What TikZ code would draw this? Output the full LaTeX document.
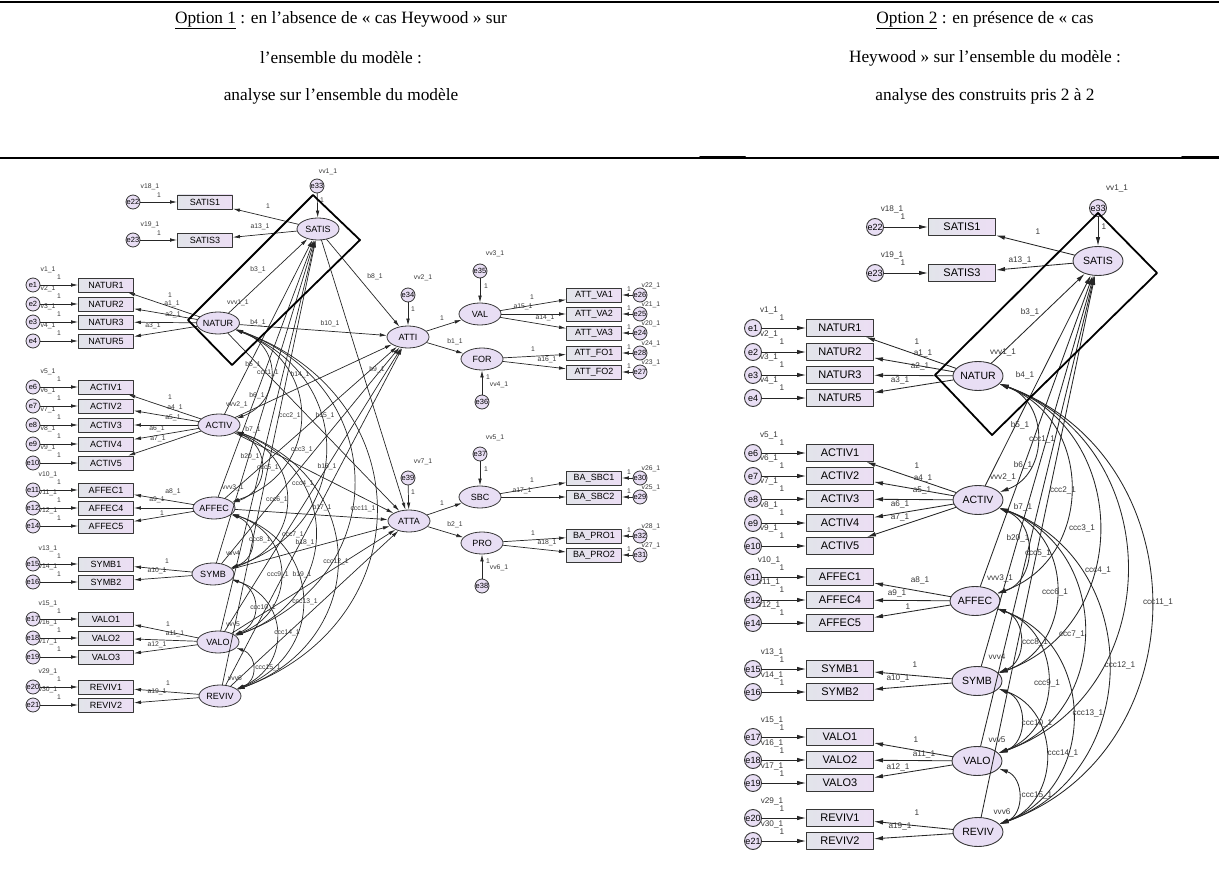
\documentclass[tikz,border=0pt]{standalone}
\usepackage{fontspec}
\setmainfont{Liberation Serif}
\newfontfamily\amosfont{Liberation Sans}
\usetikzlibrary{arrows.meta, shapes.geometric}
\definecolor{boxleft}{RGB}{226,228,234}
\definecolor{boxright}{RGB}{236,222,244}
\definecolor{latfill}{RGB}{232,222,244}
\definecolor{inkgray}{RGB}{55,55,55}

\begin{document}
\begin{tikzpicture}[
  x=1pt, y=-1pt,
  line cap=round,
  line join=round,
  head/.style={font=\fontsize{17.3}{20}\selectfont, inner sep=0pt},
  rule/.style={draw=black, line width=1.6pt},
  frame/.style={draw=black, line width=1.8pt},
  obsL/.style={
    draw=inkgray,
    line width=0.9pt,
    left color=boxleft,
    right color=boxright,
    minimum width=55pt,
    minimum height=14pt,
    inner sep=0pt,
    font=\amosfont\fontsize{9}{9}\selectfont
  },
  latL/.style={
    ellipse,
    draw=inkgray,
    line width=0.8pt,
    fill=latfill,
    minimum width=42pt,
    minimum height=22pt,
    inner sep=0pt,
    font=\amosfont\fontsize{9}{9}\selectfont
  },
  errL/.style={
    circle,
    draw=inkgray,
    line width=0.8pt,
    fill=latfill,
    minimum size=14pt,
    inner sep=0pt,
    font=\amosfont\fontsize{7.5}{7.5}\selectfont
  },
  lblL/.style={inner sep=0pt, text=inkgray, font=\amosfont\fontsize{6.8}{7}\selectfont},
  arrL/.style={-{Latex[length=7pt,width=3.6pt]}, line width=0.7pt, draw=black!85},
  covL/.style={{Latex[length=7pt,width=3.6pt]}-{Latex[length=7pt,width=3.6pt]}, line width=0.7pt, draw=black!85, bend left=70, looseness=1.4},
  obsR/.style={
    draw=inkgray,
    line width=1pt,
    left color=boxleft,
    right color=boxright,
    minimum width=67pt,
    minimum height=17pt,
    inner sep=0pt,
    font=\amosfont\fontsize{11}{11}\selectfont
  },
  latR/.style={
    ellipse,
    draw=inkgray,
    line width=0.9pt,
    fill=latfill,
    minimum width=50pt,
    minimum height=29pt,
    inner sep=0pt,
    font=\amosfont\fontsize{10.5}{10.5}\selectfont
  },
  errR/.style={
    circle,
    draw=inkgray,
    line width=0.9pt,
    fill=latfill,
    minimum size=17pt,
    inner sep=0pt,
    font=\amosfont\fontsize{9}{9}\selectfont
  },
  lblR/.style={inner sep=0pt, text=inkgray, font=\amosfont\fontsize{8.2}{8.5}\selectfont},
  arrR/.style={-{Latex[length=9pt,width=4.5pt]}, line width=0.85pt, draw=black!85},
  covR/.style={{Latex[length=9pt,width=4.5pt]}-{Latex[length=9pt,width=4.5pt]}, line width=0.85pt, draw=black!85, bend left=70, looseness=1.25}
]
\useasboundingbox (0,0) rectangle (1219,880);

% ------------------------------------------------
% Table head
% ------------------------------------------------
\draw[rule] (0,2) -- (1219,2);
\node[head] (h1a) at (341,20) {\underline{Option 1} : en l’absence de « cas Heywood » sur};
\node[head] (h1b) at (341,58) {l’ensemble du modèle :};
\node[head] (h1c) at (341,96) {analyse sur l’ensemble du modèle};
\node[head] (h2a) at (985,20) {\underline{Option 2} : en présence de « cas};
\node[head] (h2b) at (985,58) {Heywood » sur l’ensemble du modèle :};
\node[head] (h2c) at (985,96) {analyse des construits pris 2 à 2};
\draw[rule, line width=1.2pt] (0,158) -- (1219,158);
\draw[rule, line width=2pt] (700,157.5) -- (745,157.5);
\draw[rule, line width=2pt] (1182,157.5) -- (1219,157.5);

% ------------------------------------------------
% Option 1 : indicators on the left
% ------------------------------------------------
\node[lblL] (v18L) at (150,187) {v18\_1};
\node[lblL] (f18L) at (159,195) {1};
\node[lblL] (v19L) at (150,225) {v19\_1};
\node[lblL] (f19L) at (159,233) {1};
\node[errL] (e22L) at (133,202) {e22};
\node[errL] (e23L) at (133,240) {e23};
\node[obsL] (satis1L) at (205,202) {SATIS1};
\node[obsL] (satis3L) at (205,240) {SATIS3};
\draw[arrL] (e22L) -- (satis1L);
\draw[arrL] (e23L) -- (satis3L);

\node[lblL] (v1L) at (48,270) {v1\_1};
\node[lblL] (f1L) at (59,277) {1};
\node[lblL] (v2L) at (48,289) {v2\_1};
\node[lblL] (f2L) at (59,296) {1};
\node[lblL] (v3L) at (48,307) {v3\_1};
\node[lblL] (f3L) at (59,314) {1};
\node[lblL] (v4L) at (48,326) {v4\_1};
\node[lblL] (f4L) at (59,333) {1};
\node[errL] (e1L) at (33,285) {e1};
\node[errL] (e2L) at (33,304) {e2};
\node[errL] (e3L) at (33,322) {e3};
\node[errL] (e4L) at (33,341) {e4};
\node[obsL] (natur1L) at (106,285) {NATUR1};
\node[obsL] (natur2L) at (106,304) {NATUR2};
\node[obsL] (natur3L) at (106,322) {NATUR3};
\node[obsL] (natur5L) at (106,341) {NATUR5};
\draw[arrL] (e1L) -- (natur1L);
\draw[arrL] (e2L) -- (natur2L);
\draw[arrL] (e3L) -- (natur3L);
\draw[arrL] (e4L) -- (natur5L);

\node[lblL] (v5L) at (48,372) {v5\_1};
\node[lblL] (f5L) at (59,379) {1};
\node[lblL] (v6L) at (48,391) {v6\_1};
\node[lblL] (f6L) at (59,398) {1};
\node[lblL] (v7L) at (48,410) {v7\_1};
\node[lblL] (f7L) at (59,417) {1};
\node[lblL] (v8L) at (48,429) {v8\_1};
\node[lblL] (f8L) at (59,436) {1};
\node[lblL] (v9L) at (48,448) {v9\_1};
\node[lblL] (f9L) at (59,455) {1};
\node[errL] (e6L) at (33,387) {e6};
\node[errL] (e7L) at (33,406) {e7};
\node[errL] (e8L) at (33,425) {e8};
\node[errL] (e9L) at (33,444) {e9};
\node[errL] (e10L) at (33,463) {e10};
\node[obsL] (activ1L) at (106,387) {ACTIV1};
\node[obsL] (activ2L) at (106,406) {ACTIV2};
\node[obsL] (activ3L) at (106,425) {ACTIV3};
\node[obsL] (activ4L) at (106,444) {ACTIV4};
\node[obsL] (activ5L) at (106,463) {ACTIV5};
\draw[arrL] (e6L) -- (activ1L);
\draw[arrL] (e7L) -- (activ2L);
\draw[arrL] (e8L) -- (activ3L);
\draw[arrL] (e9L) -- (activ4L);
\draw[arrL] (e10L) -- (activ5L);

\node[lblL] (v10L) at (48,475) {v10\_1};
\node[lblL] (f10L) at (59,482) {1};
\node[lblL] (v11L) at (48,493) {v11\_1};
\node[lblL] (f11L) at (59,500) {1};
\node[lblL] (v12L) at (48,511) {v12\_1};
\node[lblL] (f12L) at (59,518) {1};
\node[errL] (e11L) at (33,490) {e11};
\node[errL] (e12L) at (33,508) {e12};
\node[errL] (e14L) at (33,526) {e14};
\node[obsL] (affec1L) at (106,490) {AFFEC1};
\node[obsL] (affec4L) at (106,508) {AFFEC4};
\node[obsL] (affec5L) at (106,526) {AFFEC5};
\draw[arrL] (e11L) -- (affec1L);
\draw[arrL] (e12L) -- (affec4L);
\draw[arrL] (e14L) -- (affec5L);

\node[lblL] (v13L) at (48,549) {v13\_1};
\node[lblL] (f13L) at (59,556) {1};
\node[lblL] (v14L) at (48,567) {v14\_1};
\node[lblL] (f14L) at (59,574) {1};
\node[errL] (e15L) at (33,564) {e15};
\node[errL] (e16L) at (33,582) {e16};
\node[obsL] (symb1L) at (106,564) {SYMB1};
\node[obsL] (symb2L) at (106,582) {SYMB2};
\draw[arrL] (e15L) -- (symb1L);
\draw[arrL] (e16L) -- (symb2L);

\node[lblL] (v15L) at (48,604) {v15\_1};
\node[lblL] (f15L) at (59,611) {1};
\node[lblL] (v16L) at (48,623) {v16\_1};
\node[lblL] (f16L) at (59,630) {1};
\node[lblL] (v17L) at (48,642) {v17\_1};
\node[lblL] (f17L) at (59,649) {1};
\node[errL] (e17L) at (33,619) {e17};
\node[errL] (e18L) at (33,638) {e18};
\node[errL] (e19L) at (33,657) {e19};
\node[obsL] (valo1L) at (106,619) {VALO1};
\node[obsL] (valo2L) at (106,638) {VALO2};
\node[obsL] (valo3L) at (106,657) {VALO3};
\draw[arrL] (e17L) -- (valo1L);
\draw[arrL] (e18L) -- (valo2L);
\draw[arrL] (e19L) -- (valo3L);

\node[lblL] (v29L) at (48,672) {v29\_1};
\node[lblL] (f29L) at (59,679) {1};
\node[lblL] (v30L) at (48,690) {v30\_1};
\node[lblL] (f30L) at (59,697) {1};
\node[errL] (e20L) at (33,687) {e20};
\node[errL] (e21L) at (33,705) {e21};
\node[obsL] (reviv1L) at (106,687) {REVIV1};
\node[obsL] (reviv2L) at (106,705) {REVIV2};
\draw[arrL] (e20L) -- (reviv1L);
\draw[arrL] (e21L) -- (reviv2L);

% ------------------------------------------------
% Option 1 : latent variables
% ------------------------------------------------
\node[lblL] (vv1L) at (328,172) {vv1\_1};
\node[lblL] (g1L) at (322,200) {1};
\node[errL] (e33L) at (317,186) {e33};
\node[latL] (satisL) at (318,229) {SATIS};
\node[latL] (naturL) at (218,323) {NATUR};
\node[latL] (activL) at (219,425) {ACTIV};
\node[latL] (affecL) at (214,508) {AFFEC};
\node[latL] (symbL) at (213,574) {SYMB};
\node[latL] (valoL) at (218,642) {VALO};
\node[latL] (revivL) at (220,696) {REVIV};
\draw[arrL] (e33L) -- (satisL);

\draw[arrL] (satisL) -- (satis1L);
\draw[arrL] (satisL) -- (satis3L);
\node[lblL] (k1L) at (268,206) {1};
\node[lblL] (a13L) at (260,227) {a13\_1};

\draw[arrL] (naturL) -- (natur1L);
\draw[arrL] (naturL) -- (natur2L);
\draw[arrL] (naturL) -- (natur3L);
\draw[arrL] (naturL) -- (natur5L);
\node[lblL] (k2L) at (170,295) {1};
\node[lblL] (a1L) at (172,304) {a1\_1};
\node[lblL] (a2L) at (173,315) {a2\_1};
\node[lblL] (a3L) at (153,326) {a3\_1};

\draw[arrL] (activL) -- (activ1L);
\draw[arrL] (activL) -- (activ2L);
\draw[arrL] (activL) -- (activ3L);
\draw[arrL] (activL) -- (activ4L);
\draw[arrL] (activL) -- (activ5L);
\node[lblL] (k3L) at (170,397) {1};
\node[lblL] (a4L) at (175,408) {a4\_1};
\node[lblL] (a5L) at (173,418) {a5\_1};
\node[lblL] (a6L) at (157,429) {a6\_1};
\node[lblL] (a7L) at (158,439) {a7\_1};

\draw[arrL] (affecL) -- (affec1L);
\draw[arrL] (affecL) -- (affec4L);
\draw[arrL] (affecL) -- (affec5L);
\node[lblL] (a8L) at (173,492) {a8\_1};
\node[lblL] (a9L) at (157,500) {a9\_1};
\node[lblL] (k4L) at (162,513) {1};

\draw[arrL] (symbL) -- (symb1L);
\draw[arrL] (symbL) -- (symb2L);
\node[lblL] (k5L) at (167,561) {1};
\node[lblL] (a10L) at (157,571) {a10\_1};

\draw[arrL] (valoL) -- (valo1L);
\draw[arrL] (valoL) -- (valo2L);
\draw[arrL] (valoL) -- (valo3L);
\node[lblL] (k6L) at (168,624) {1};
\node[lblL] (a11L) at (175,634) {a11\_1};
\node[lblL] (a12L) at (157,645) {a12\_1};

\draw[arrL] (revivL) -- (reviv1L);
\draw[arrL] (revivL) -- (reviv2L);
\node[lblL] (k7L) at (168,683) {1};
\node[lblL] (a19L) at (157,692) {a19\_1};

% ------------------------------------------------
% Option 1 : attitudes on the right
% ------------------------------------------------
\node[lblL] (vv2L) at (423,278) {vv2\_1};
\node[lblL] (g2L) at (413,309) {1};
\node[errL] (e34L) at (408,295) {e34};
\node[latL] (attiL) at (408,337) {ATTI};
\draw[arrL] (e34L) -- (attiL);

\node[lblL] (vv3L) at (495,254) {vv3\_1};
\node[lblL] (g3L) at (486,286) {1};
\node[errL] (e35L) at (480,271) {e35};
\node[latL] (valL) at (480,314) {VAL};
\draw[arrL] (e35L) -- (valL);

\node[lblL] (vv4L) at (499,385) {vv4\_1};
\node[lblL] (g4L) at (488,377) {1};
\node[errL] (e36L) at (482,402) {e36};
\node[latL] (forL) at (482,359) {FOR};
\draw[arrL] (e36L) -- (forL);

\draw[arrL] (attiL) -- (valL);
\draw[arrL] (attiL) -- (forL);
\node[lblL] (k8L) at (442,318) {1};
\node[lblL] (b1L) at (455,342) {b1\_1};

\node[lblL] (v22L) at (651,286) {v22\_1};
\node[lblL] (f22L) at (629,289) {1};
\node[lblL] (v21L) at (651,305) {v21\_1};
\node[lblL] (f21L) at (629,308) {1};
\node[lblL] (v20L) at (651,324) {v20\_1};
\node[lblL] (f20L) at (629,327) {1};
\node[lblL] (v24L) at (651,344) {v24\_1};
\node[lblL] (f24L) at (629,347) {1};
\node[lblL] (v23L) at (651,363) {v23\_1};
\node[lblL] (f23L) at (629,366) {1};
\node[obsL] (attva1L) at (594,295) {ATT\_VA1};
\node[obsL] (attva2L) at (594,314) {ATT\_VA2};
\node[obsL] (attva3L) at (594,333) {ATT\_VA3};
\node[obsL] (attfo1L) at (594,353) {ATT\_FO1};
\node[obsL] (attfo2L) at (594,372) {ATT\_FO2};
\node[errL] (e26L) at (640,295) {e26};
\node[errL] (e25L) at (640,314) {e25};
\node[errL] (e24L) at (640,333) {e24};
\node[errL] (e28L) at (640,353) {e28};
\node[errL] (e27L) at (640,372) {e27};
\draw[arrL] (e26L) -- (attva1L);
\draw[arrL] (e25L) -- (attva2L);
\draw[arrL] (e24L) -- (attva3L);
\draw[arrL] (e28L) -- (attfo1L);
\draw[arrL] (e27L) -- (attfo2L);
\draw[arrL] (valL) -- (attva1L);
\draw[arrL] (valL) -- (attva2L);
\draw[arrL] (valL) -- (attva3L);
\draw[arrL] (forL) -- (attfo1L);
\draw[arrL] (forL) -- (attfo2L);
\node[lblL] (k9L) at (532,297) {1};
\node[lblL] (a15L) at (523,307) {a15\_1};
\node[lblL] (a14L) at (545,318) {a14\_1};
\node[lblL] (k10L) at (533,349) {1};
\node[lblL] (a16L) at (547,360) {a16\_1};

\node[lblL] (vv7L) at (423,462) {vv7\_1};
\node[lblL] (g7L) at (413,492) {1};
\node[errL] (e39L) at (408,478) {e39};
\node[latL] (attaL) at (409,521) {ATTA};
\draw[arrL] (e39L) -- (attaL);

\node[lblL] (vv5L) at (495,438) {vv5\_1};
\node[lblL] (g5L) at (486,469) {1};
\node[errL] (e37L) at (480,454) {e37};
\node[latL] (sbcL) at (480,497) {SBC};
\draw[arrL] (e37L) -- (sbcL);

\node[lblL] (vv6L) at (499,568) {vv6\_1};
\node[lblL] (g6L) at (488,561) {1};
\node[errL] (e38L) at (482,586) {e38};
\node[latL] (proL) at (482,543) {PRO};
\draw[arrL] (e38L) -- (proL);

\draw[arrL] (attaL) -- (sbcL);
\draw[arrL] (attaL) -- (proL);
\node[lblL] (k11L) at (442,503) {1};
\node[lblL] (b2L) at (455,525) {b2\_1};

\node[lblL] (v26L) at (651,469) {v26\_1};
\node[lblL] (f26L) at (629,472) {1};
\node[lblL] (v25L) at (651,488) {v25\_1};
\node[lblL] (f25L) at (629,491) {1};
\node[lblL] (v28L) at (651,527) {v28\_1};
\node[lblL] (f28L) at (629,530) {1};
\node[lblL] (v27L) at (651,546) {v27\_1};
\node[lblL] (f27L) at (629,549) {1};
\node[obsL] (basbc1L) at (594,478) {BA\_SBC1};
\node[obsL] (basbc2L) at (594,497) {BA\_SBC2};
\node[obsL] (bapro1L) at (594,536) {BA\_PRO1};
\node[obsL] (bapro2L) at (594,555) {BA\_PRO2};
\node[errL] (e30L) at (640,478) {e30};
\node[errL] (e29L) at (640,497) {e29};
\node[errL] (e32L) at (640,536) {e32};
\node[errL] (e31L) at (640,555) {e31};
\draw[arrL] (e30L) -- (basbc1L);
\draw[arrL] (e29L) -- (basbc2L);
\draw[arrL] (e32L) -- (bapro1L);
\draw[arrL] (e31L) -- (bapro2L);
\draw[arrL] (sbcL) -- (basbc1L);
\draw[arrL] (sbcL) -- (basbc2L);
\draw[arrL] (proL) -- (bapro1L);
\draw[arrL] (proL) -- (bapro2L);
\node[lblL] (k12L) at (532,480) {1};
\node[lblL] (a17L) at (522,491) {a17\_1};
\node[lblL] (k13L) at (533,533) {1};
\node[lblL] (a18L) at (547,543) {a18\_1};

% ------------------------------------------------
% Option 1 : structural paths
% ------------------------------------------------
\draw[arrL] (satisL) -- (attiL);
\draw[arrL] (satisL) -- (attaL);
\draw[arrL] (naturL) -- (satisL);
\draw[arrL] (activL) -- (satisL);
\draw[arrL] (affecL) -- (satisL);
\draw[arrL] (symbL) -- (satisL);
\draw[arrL] (valoL) -- (satisL);
\draw[arrL] (revivL) -- (satisL);
\draw[arrL] (naturL) -- (attiL);
\draw[arrL] (activL) -- (attiL);
\draw[arrL] (affecL) -- (attiL);
\draw[arrL] (symbL) -- (attiL);
\draw[arrL] (valoL) -- (attiL);
\draw[arrL] (revivL) -- (attiL);
\draw[arrL] (naturL) -- (attaL);
\draw[arrL] (activL) -- (attaL);
\draw[arrL] (affecL) -- (attaL);
\draw[arrL] (symbL) -- (attaL);
\draw[arrL] (valoL) -- (attaL);
\draw[arrL] (revivL) -- (attaL);

% covariances between the six constructs
\draw[covL] (naturL) to (activL);
\draw[covL] (naturL) to (affecL);
\draw[covL] (naturL) to (symbL);
\draw[covL] (naturL) to (valoL);
\draw[covL] (naturL) to (revivL);
\draw[covL] (activL) to (affecL);
\draw[covL] (activL) to (symbL);
\draw[covL] (activL) to (valoL);
\draw[covL] (activL) to (revivL);
\draw[covL] (affecL) to (symbL);
\draw[covL] (affecL) to (valoL);
\draw[covL] (affecL) to (revivL);
\draw[covL] (symbL) to (valoL);
\draw[covL] (symbL) to (revivL);
\draw[covL] (valoL) to (revivL);

\node[lblL] (vvv1L) at (238,303) {vvv1\_1};
\node[lblL] (vvv2L) at (237,405) {vvv2\_1};
\node[lblL] (vvv3L) at (233,488) {vvv3\_1};
\node[lblL] (vvv4L) at (233,553) {vvv4};
\node[lblL] (vvv5L) at (233,624) {vvv5};
\node[lblL] (vvv6L) at (235,678) {vvv6};
\node[lblL] (b3L) at (258,270) {b3\_1};
\node[lblL] (b4L) at (258,323) {b4\_1};
\node[lblL] (b10L) at (330,324) {b10\_1};
\node[lblL] (b8L) at (375,277) {b8\_1};
\node[lblL] (b9L) at (377,370) {b9\_1};
\node[lblL] (b5L) at (253,365) {b5\_1};
\node[lblL] (c1L) at (268,373) {ccc1\_1};
\node[lblL] (b14L) at (300,375) {b14\_1};
\node[lblL] (b6L) at (257,396) {b6\_1};
\node[lblL] (c2L) at (290,416) {ccc2\_1};
\node[lblL] (b15L) at (325,416) {b15\_1};
\node[lblL] (b7L) at (253,430) {b7\_1};
\node[lblL] (c3L) at (302,450) {ccc3\_1};
\node[lblL] (b20L) at (250,457) {b20\_1};
\node[lblL] (c5L) at (268,468) {ccc5\_1};
\node[lblL] (b16L) at (327,467) {b16\_1};
\node[lblL] (c4L) at (303,484) {ccc4\_1};
\node[lblL] (c6L) at (277,500) {ccc6\_1};
\node[lblL] (b17L) at (322,508) {b17\_1};
\node[lblL] (c11L) at (363,509) {ccc11\_1};
\node[lblL] (c7L) at (293,535) {ccc7\_1};
\node[lblL] (c8L) at (260,540) {ccc8\_1};
\node[lblL] (b18L) at (305,543) {b18\_1};
\node[lblL] (c12L) at (336,562) {ccc12\_1};
\node[lblL] (c9L) at (278,575) {ccc9\_1};
\node[lblL] (b19L) at (302,575) {b19\_1};
\node[lblL] (c13L) at (305,602) {ccc13\_1};
\node[lblL] (c10L) at (263,608) {ccc10\_1};
\node[lblL] (c14L) at (287,633) {ccc14\_1};
\node[lblL] (c15L) at (268,668) {ccc15\_1};

\draw[frame] (313,195) -- (360,240) -- (232,365) -- (188,320) -- cycle;

% ------------------------------------------------
% Option 2 : indicators
% ------------------------------------------------
\node[lblR] (v18R) at (892,209) {v18\_1};
\node[lblR] (f18R) at (903,217) {1};
\node[lblR] (v19R) at (892,255) {v19\_1};
\node[lblR] (f19R) at (903,263) {1};
\node[errR] (e22R) at (875,227) {e22};
\node[errR] (e23R) at (875,273) {e23};
\node[obsR] (satis1R) at (962,227) {SATIS1};
\node[obsR] (satis3R) at (962,273) {SATIS3};
\draw[arrR] (e22R) -- (satis1R);
\draw[arrR] (e23R) -- (satis3R);

\node[lblR] (v1R) at (769,310) {v1\_1};
\node[lblR] (f1R) at (782,318) {1};
\node[lblR] (v2R) at (769,334) {v2\_1};
\node[lblR] (f2R) at (782,342) {1};
\node[lblR] (v3R) at (769,357) {v3\_1};
\node[lblR] (f3R) at (782,365) {1};
\node[lblR] (v4R) at (769,380) {v4\_1};
\node[lblR] (f4R) at (782,388) {1};
\node[errR] (e1R) at (753,328) {e1};
\node[errR] (e2R) at (753,352) {e2};
\node[errR] (e3R) at (753,375) {e3};
\node[errR] (e4R) at (753,398) {e4};
\node[obsR] (natur1R) at (840,328) {NATUR1};
\node[obsR] (natur2R) at (840,352) {NATUR2};
\node[obsR] (natur3R) at (840,375) {NATUR3};
\node[obsR] (natur5R) at (840,398) {NATUR5};
\draw[arrR] (e1R) -- (natur1R);
\draw[arrR] (e2R) -- (natur2R);
\draw[arrR] (e3R) -- (natur3R);
\draw[arrR] (e4R) -- (natur5R);

\node[lblR] (v5R) at (769,435) {v5\_1};
\node[lblR] (f5R) at (782,443) {1};
\node[lblR] (v6R) at (769,458) {v6\_1};
\node[lblR] (f6R) at (782,466) {1};
\node[lblR] (v7R) at (769,481) {v7\_1};
\node[lblR] (f7R) at (782,489) {1};
\node[lblR] (v8R) at (769,505) {v8\_1};
\node[lblR] (f8R) at (782,513) {1};
\node[lblR] (v9R) at (769,528) {v9\_1};
\node[lblR] (f9R) at (782,536) {1};
\node[errR] (e6R) at (753,453) {e6};
\node[errR] (e7R) at (753,476) {e7};
\node[errR] (e8R) at (753,499) {e8};
\node[errR] (e9R) at (753,523) {e9};
\node[errR] (e10R) at (753,546) {e10};
\node[obsR] (activ1R) at (840,453) {ACTIV1};
\node[obsR] (activ2R) at (840,476) {ACTIV2};
\node[obsR] (activ3R) at (840,499) {ACTIV3};
\node[obsR] (activ4R) at (840,523) {ACTIV4};
\node[obsR] (activ5R) at (840,546) {ACTIV5};
\draw[arrR] (e6R) -- (activ1R);
\draw[arrR] (e7R) -- (activ2R);
\draw[arrR] (e8R) -- (activ3R);
\draw[arrR] (e9R) -- (activ4R);
\draw[arrR] (e10R) -- (activ5R);

\node[lblR] (v10R) at (769,560) {v10\_1};
\node[lblR] (f10R) at (782,568) {1};
\node[lblR] (v11R) at (769,582) {v11\_1};
\node[lblR] (f11R) at (782,590) {1};
\node[lblR] (v12R) at (769,605) {v12\_1};
\node[lblR] (f12R) at (782,613) {1};
\node[errR] (e11R) at (753,577) {e11};
\node[errR] (e12R) at (753,600) {e12};
\node[errR] (e14R) at (753,623) {e14};
\node[obsR] (affec1R) at (840,577) {AFFEC1};
\node[obsR] (affec4R) at (840,600) {AFFEC4};
\node[obsR] (affec5R) at (840,623) {AFFEC5};
\draw[arrR] (e11R) -- (affec1R);
\draw[arrR] (e12R) -- (affec4R);
\draw[arrR] (e14R) -- (affec5R);

\node[lblR] (v13R) at (772,652) {v13\_1};
\node[lblR] (f13R) at (782,660) {1};
\node[lblR] (v14R) at (772,675) {v14\_1};
\node[lblR] (f14R) at (782,683) {1};
\node[errR] (e15R) at (753,669) {e15};
\node[errR] (e16R) at (753,692) {e16};
\node[obsR] (symb1R) at (840,669) {SYMB1};
\node[obsR] (symb2R) at (840,692) {SYMB2};
\draw[arrR] (e15R) -- (symb1R);
\draw[arrR] (e16R) -- (symb2R);

\node[lblR] (v15R) at (772,720) {v15\_1};
\node[lblR] (f15R) at (782,728) {1};
\node[lblR] (v16R) at (772,743) {v16\_1};
\node[lblR] (f16R) at (782,751) {1};
\node[lblR] (v17R) at (772,766) {v17\_1};
\node[lblR] (f17R) at (782,774) {1};
\node[errR] (e17R) at (753,737) {e17};
\node[errR] (e18R) at (753,760) {e18};
\node[errR] (e19R) at (753,783) {e19};
\node[obsR] (valo1R) at (840,737) {VALO1};
\node[obsR] (valo2R) at (840,760) {VALO2};
\node[obsR] (valo3R) at (840,783) {VALO3};
\draw[arrR] (e17R) -- (valo1R);
\draw[arrR] (e18R) -- (valo2R);
\draw[arrR] (e19R) -- (valo3R);

\node[lblR] (v29R) at (772,801) {v29\_1};
\node[lblR] (f29R) at (782,809) {1};
\node[lblR] (v30R) at (772,824) {v30\_1};
\node[lblR] (f30R) at (782,832) {1};
\node[errR] (e20R) at (753,818) {e20};
\node[errR] (e21R) at (753,841) {e21};
\node[obsR] (reviv1R) at (840,818) {REVIV1};
\node[obsR] (reviv2R) at (840,841) {REVIV2};
\draw[arrR] (e20R) -- (reviv1R);
\draw[arrR] (e21R) -- (reviv2R);

% ------------------------------------------------
% Option 2 : latent variables
% ------------------------------------------------
\node[lblR] (vv1R) at (1117,188) {vv1\_1};
\node[lblR] (g1R) at (1104,227) {1};
\node[errR] (e33R) at (1098,208) {e33};
\node[latR] (satisR) at (1098,261) {SATIS};
\node[latR] (naturR) at (978,376) {NATUR};
\node[latR] (activR) at (978,500) {ACTIV};
\node[latR] (affecR) at (975,601) {AFFEC};
\node[latR] (symbR) at (977,681) {SYMB};
\node[latR] (valoR) at (977,761) {VALO};
\node[latR] (revivR) at (978,832) {REVIV};
\draw[arrR] (e33R) -- (satisR);

\draw[arrR] (satisR) -- (satis1R);
\draw[arrR] (satisR) -- (satis3R);
\node[lblR] (k1R) at (1038,232) {1};
\node[lblR] (a13R) at (1020,260) {a13\_1};

\draw[arrR] (naturR) -- (natur1R);
\draw[arrR] (naturR) -- (natur2R);
\draw[arrR] (naturR) -- (natur3R);
\draw[arrR] (naturR) -- (natur5R);
\node[lblR] (k2R) at (917,342) {1};
\node[lblR] (a1R) at (923,353) {a1\_1};
\node[lblR] (a2R) at (920,366) {a2\_1};
\node[lblR] (a3R) at (900,380) {a3\_1};

\draw[arrR] (activR) -- (activ1R);
\draw[arrR] (activR) -- (activ2R);
\draw[arrR] (activR) -- (activ3R);
\draw[arrR] (activR) -- (activ4R);
\draw[arrR] (activR) -- (activ5R);
\node[lblR] (k3R) at (917,466) {1};
\node[lblR] (a4R) at (923,478) {a4\_1};
\node[lblR] (a5R) at (922,490) {a5\_1};
\node[lblR] (a6R) at (900,504) {a6\_1};
\node[lblR] (a7R) at (900,517) {a7\_1};

\draw[arrR] (affecR) -- (affec1R);
\draw[arrR] (affecR) -- (affec4R);
\draw[arrR] (affecR) -- (affec5R);
\node[lblR] (a8R) at (920,580) {a8\_1};
\node[lblR] (a9R) at (897,593) {a9\_1};
\node[lblR] (k4R) at (908,607) {1};

\draw[arrR] (symbR) -- (symb1R);
\draw[arrR] (symbR) -- (symb2R);
\node[lblR] (k5R) at (915,665) {1};
\node[lblR] (a10R) at (898,678) {a10\_1};

\draw[arrR] (valoR) -- (valo1R);
\draw[arrR] (valoR) -- (valo2R);
\draw[arrR] (valoR) -- (valo3R);
\node[lblR] (k6R) at (916,740) {1};
\node[lblR] (a11R) at (924,754) {a11\_1};
\node[lblR] (a12R) at (898,767) {a12\_1};

\draw[arrR] (revivR) -- (reviv1R);
\draw[arrR] (revivR) -- (reviv2R);
\node[lblR] (k7R) at (917,813) {1};
\node[lblR] (a19R) at (900,826) {a19\_1};

% ------------------------------------------------
% Option 2 : paths to SATIS and covariances
% ------------------------------------------------
\draw[arrR] (naturR) -- (satisR);
\draw[arrR] (activR) -- (satisR);
\draw[arrR] (affecR) -- (satisR);
\draw[arrR] (symbR) -- (satisR);
\draw[arrR] (valoR) -- (satisR);
\draw[arrR] (revivR) -- (satisR);

\draw[covR] (naturR) to (activR);
\draw[covR] (naturR) to (affecR);
\draw[covR] (naturR) to (symbR);
\draw[covR] (naturR) to (valoR);
\draw[covR] (naturR) to (revivR);
\draw[covR] (activR) to (affecR);
\draw[covR] (activR) to (symbR);
\draw[covR] (activR) to (valoR);
\draw[covR] (activR) to (revivR);
\draw[covR] (affecR) to (symbR);
\draw[covR] (affecR) to (valoR);
\draw[covR] (affecR) to (revivR);
\draw[covR] (symbR) to (valoR);
\draw[covR] (symbR) to (revivR);
\draw[covR] (valoR) to (revivR);

\node[lblR] (vvv1R) at (1003,352) {vvv1\_1};
\node[lblR] (vvv2R) at (1003,477) {vvv2\_1};
\node[lblR] (vvv3R) at (1000,578) {vvv3\_1};
\node[lblR] (vvv4R) at (997,657) {vvv4};
\node[lblR] (vvv5R) at (997,740) {vvv5};
\node[lblR] (vvv6R) at (1002,812) {vvv6};
\node[lblR] (b3R) at (1030,312) {b3\_1};
\node[lblR] (b4R) at (1025,375) {b4\_1};
\node[lblR] (b5R) at (1020,425) {b5\_1};
\node[lblR] (b6R) at (1023,465) {b6\_1};
\node[lblR] (b7R) at (1023,507) {b7\_1};
\node[lblR] (b20R) at (1018,538) {b20\_1};
\node[lblR] (c1R) at (1042,439) {ccc1\_1};
\node[lblR] (c2R) at (1063,490) {ccc2\_1};
\node[lblR] (c3R) at (1082,528) {ccc3\_1};
\node[lblR] (c4R) at (1098,570) {ccc4\_1};
\node[lblR] (c11R) at (1158,602) {ccc11\_1};
\node[lblR] (c5R) at (1038,553) {ccc5\_1};
\node[lblR] (c6R) at (1055,592) {ccc6\_1};
\node[lblR] (c7R) at (1072,634) {ccc7\_1};
\node[lblR] (c12R) at (1120,665) {ccc12\_1};
\node[lblR] (c8R) at (1035,642) {ccc8\_1};
\node[lblR] (c9R) at (1047,683) {ccc9\_1};
\node[lblR] (c13R) at (1088,713) {ccc13\_1};
\node[lblR] (c10R) at (1037,723) {ccc10\_1};
\node[lblR] (c14R) at (1063,753) {ccc14\_1};
\node[lblR] (c15R) at (1037,795) {ccc15\_1};

\draw[frame] (1098,213) -- (1157,273) -- (992,435) -- (935,375) -- cycle;

\end{tikzpicture}
\end{document}
